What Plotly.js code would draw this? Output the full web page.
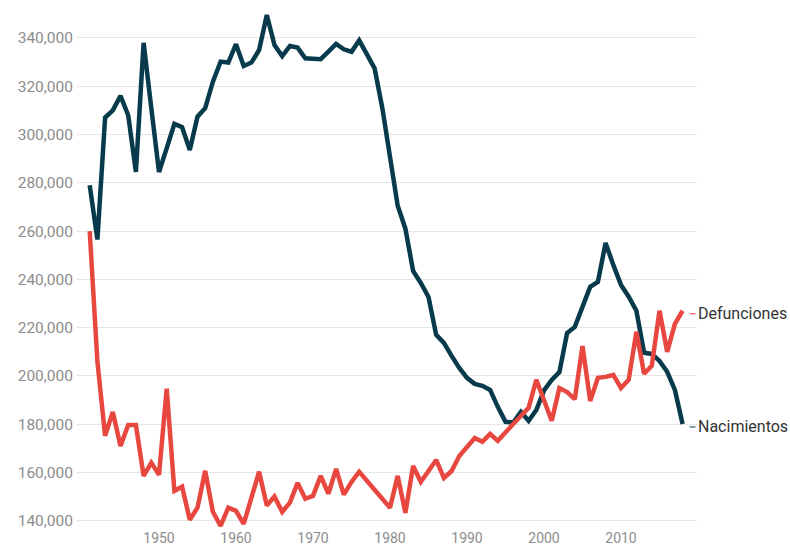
<!DOCTYPE html>
<html>
<head>
<meta charset="utf-8">
<script src="https://cdn.plot.ly/plotly-3.0.1.min.js"></script>
<style>
  html, body { margin: 0; padding: 0; background: #ffffff; }
  #chart { width: 790px; height: 547px; }
</style>
</head>
<body>
<div id="chart"></div>
<script>
const years = [];
for (let y = 1941; y <= 2018; y++) years.push(y);

const nacimientos = [
  279000, 256500, 307000, 310000, 316000, 308000, 284500, 338000, 311000, 284500,
  294300, 304400, 303000, 293600, 307400, 310900, 321900, 330200, 329800, 337400,
  328400, 329800, 335000, 349500, 337100, 332500, 336700, 336000, 331600, 331200,
  331200, 334300, 337500, 335300, 334300, 339000, 333000, 327400, 311000, 290000,
  270500, 261000, 243500, 238500, 232700, 217000, 213700, 208300, 203300, 199200,
  196700, 195900, 194200, 187200, 181000, 180700, 185100, 181400, 185900, 194000,
  198300, 201600, 217800, 220300, 228200, 236900, 239000, 255100, 246000, 237700,
  232800, 227000, 209600, 209100, 206200, 201700, 194200, 180100
];

const defunciones = [
  260000, 206000, 175200, 185100, 171000, 179700, 179700, 158600, 164000, 159000,
  194700, 152400, 154100, 140400, 145400, 160700, 143700, 137900, 145400, 144100,
  138700, 149500, 160300, 146300, 150000, 143700, 147500, 155700, 149100, 150300,
  158600, 151200, 161500, 150800, 156100, 160300, 156600, 152800, 149100, 145400,
  158600, 143300, 162700, 156100, 160600, 165200, 157700, 160600, 166800, 170600,
  174300, 172700, 176000, 173100, 176800, 180100, 183400, 186800, 198400, 190000,
  181400, 195000, 193300, 190400, 212400, 189600, 199200, 199600, 200400, 195000,
  198400, 218300, 200900, 204200, 227000, 210000, 221600, 227000
];

const xTickVals = [1950, 1960, 1970, 1980, 1990, 2000, 2010];
const yTickVals = [140000, 160000, 180000, 200000, 220000, 240000, 260000, 280000, 300000, 320000, 340000];

const colNac = '#073b4c';
const colDef = '#e8473f';
const lastIdx = years.length - 1;

const traces = [
  {
    x: years, y: nacimientos, type: 'scatter', mode: 'lines', name: 'Nacimientos',
    line: { color: colNac, width: 4.5 }, hoverinfo: 'x+y'
  },
  {
    x: years, y: defunciones, type: 'scatter', mode: 'lines', name: 'Defunciones',
    line: { color: colDef, width: 4.5 }, hoverinfo: 'x+y'
  }
];

const layout = {
  width: 790, height: 547,
  margin: { l: 77, r: 93, t: 9, b: 19 },
  paper_bgcolor: '#ffffff', plot_bgcolor: '#ffffff',
  showlegend: false,
  font: { family: 'Roboto, sans-serif', size: 14, color: '#8c8c8c' },
  xaxis: {
    range: [1939.35, 2019.87],
    tickvals: xTickVals,
    ticktext: xTickVals.map(String),
    showgrid: false, zeroline: false, showline: false, ticks: '',
    tickfont: { family: 'Roboto, sans-serif', size: 14, color: '#8c8c8c' },
    automargin: false
  },
  yaxis: {
    range: [137000, 352000],
    tickvals: yTickVals,
    tickformat: ',d',
    showgrid: true, gridcolor: '#e6e6e6', gridwidth: 1,
    zeroline: false, showline: false, ticks: '',
    ticklabelstandoff: 3,
    tickfont: { family: 'Roboto, sans-serif', size: 15.5, color: '#8c8c8c' },
    automargin: false
  },
  annotations: [
    {
      x: years[lastIdx], y: defunciones[lastIdx], xref: 'x', yref: 'y',
      text: 'Defunciones', xanchor: 'left', yanchor: 'middle', yshift: -3,
      showarrow: true, ax: 13, ay: 0, arrowhead: 0, arrowwidth: 1, arrowcolor: colDef, standoff: 7,
      font: { family: 'Roboto, sans-serif', size: 16, color: '#333333' }
    },
    {
      x: years[lastIdx], y: nacimientos[lastIdx], xref: 'x', yref: 'y',
      text: 'Nacimientos', xanchor: 'left', yanchor: 'middle', yshift: -3,
      showarrow: true, ax: 13, ay: 0, arrowhead: 0, arrowwidth: 1, arrowcolor: colNac, standoff: 7,
      font: { family: 'Roboto, sans-serif', size: 16, color: '#333333' }
    }
  ]
};

Plotly.newPlot('chart', traces, layout, { displayModeBar: false, staticPlot: true });
</script>
</body>
</html>
